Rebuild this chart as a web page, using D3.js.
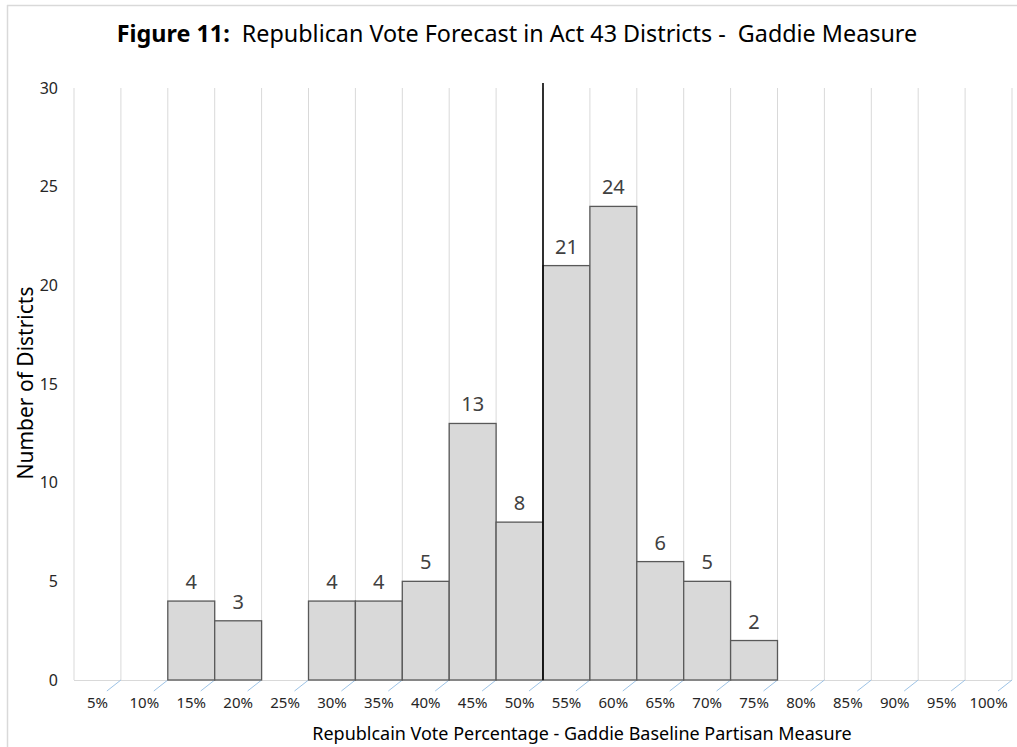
<!DOCTYPE html>
<html><head><meta charset="utf-8">
<script src="https://cdn.jsdelivr.net/npm/d3@7"></script>
<style>html,body{margin:0;padding:0;background:#fff;}svg{display:block;}</style>
</head><body>
<svg id="c" width="1017" height="747"></svg>
<script>
const categories = ["5%","10%","15%","20%","25%","30%","35%","40%","45%","50%","55%","60%","65%","70%","75%","80%","85%","90%","95%","100%"];
const counts = [0,0,4,3,0,4,4,5,13,8,21,24,6,5,2,0,0,0,0,0];
const yTicks = [0,5,10,15,20,25,30];
const markerAfter = "50%";
const titleBold = "Figure 11:";
const titleRest = "  Republican Vote Forecast in Act 43 Districts -  Gaddie Measure";
const xTitle = "Republcain Vote Percentage - Gaddie Baseline Partisan Measure";
const yTitle = "Number of Districts";

const FONT = "'Noto Sans', 'Open Sans', sans-serif";
const svg = d3.select("#c");
const W = 1017, H = 747;
const m = {left: 74, right: 1012, top: 88, bottom: 680};

// frame
svg.append("line").attr("x1",7).attr("x2",W).attr("y1",5.5).attr("y2",5.5).attr("stroke","#d9d9d9").attr("stroke-width",1.5);
svg.append("line").attr("x1",7.5).attr("x2",7.5).attr("y1",5).attr("y2",H).attr("stroke","#d9d9d9").attr("stroke-width",1.5);

const x = d3.scaleBand().domain(categories).range([m.left, m.right]).padding(0);
const y = d3.scaleLinear().domain([0,30]).range([m.bottom, m.top]);
const bw = x.bandwidth();
const bounds = categories.map(c => x(c)).concat([x(categories[categories.length-1]) + bw]);

// vertical gridlines
svg.append("g").selectAll("line").data(bounds).join("line")
  .attr("x1", d=>d).attr("x2", d=>d).attr("y1", m.top).attr("y2", m.bottom)
  .attr("stroke","#d9d9d9").attr("stroke-width",1);

// x axis line
svg.append("line").attr("x1", m.left).attr("x2", m.right).attr("y1", m.bottom+0.5).attr("y2", m.bottom+0.5)
  .attr("stroke","#d9d9d9").attr("stroke-width",1);

// diagonal ticks
svg.append("g").selectAll("line").data(bounds.slice(1)).join("line")
  .attr("x1", d=>d).attr("y1", m.bottom).attr("x2", d=>d-14).attr("y2", m.bottom+11)
  .attr("stroke","#9dc3e6").attr("stroke-width",1);

// bars
const data = categories.map((c,i)=>({c, v: counts[i]})).filter(d=>d.v>0);
svg.append("g").selectAll("rect").data(data).join("rect")
  .attr("x", d=>x(d.c)).attr("y", d=>y(d.v)).attr("width", bw).attr("height", d=>y(0)-y(d.v))
  .attr("fill","#d9d9d9").attr("stroke","#595959").attr("stroke-width",1.3);

// value labels
svg.append("g").selectAll("text").data(data).join("text")
  .attr("x", d=>x(d.c)+bw/2).attr("y", d=>y(d.v)-12)
  .attr("text-anchor","middle").attr("font-family",FONT).attr("font-size",20).attr("fill","#404040")
  .text(d=>d.v);

// marker line
const mx = x(markerAfter) + bw;
svg.append("line").attr("x1", mx).attr("x2", mx).attr("y1", m.top-5).attr("y2", m.bottom)
  .attr("stroke","#000").attr("stroke-width",1.6);

// x tick labels
svg.append("g").selectAll("text").data(categories).join("text")
  .attr("x", d=>x(d)+bw/2).attr("y", 708)
  .attr("text-anchor","middle").attr("font-family",FONT).attr("font-size",15).attr("fill","#262626")
  .text(d=>d);

// y tick labels
svg.append("g").selectAll("text").data(yTicks).join("text")
  .attr("x", 58).attr("y", d=>y(d)).attr("dy","0.36em")
  .attr("text-anchor","end").attr("font-family",FONT).attr("font-size",16).attr("fill","#262626")
  .text(d=>d);

function fit(sel, target) {
  const w = sel.node().getComputedTextLength();
  const fs = parseFloat(sel.attr("font-size"));
  sel.attr("font-size", fs * target / w);
}

// title
const t = svg.append("text").attr("x", 517).attr("y", 42).attr("text-anchor","middle")
  .attr("font-family",FONT).attr("font-size",22).attr("fill","#000").attr("xml:space","preserve");
t.append("tspan").attr("font-weight","bold").text(titleBold);
t.append("tspan").text(titleRest);
t.style("white-space","pre");
fit(t, 801);

// x title
const xt = svg.append("text").attr("x", 582).attr("y", 740).attr("text-anchor","middle")
  .attr("font-family",FONT).attr("font-size",17).attr("fill","#000").text(xTitle);
fit(xt, 540);

// y title
const yt = svg.append("text").attr("transform","translate(33,383) rotate(-90)").attr("text-anchor","middle")
  .attr("font-family",FONT).attr("font-size",20).attr("fill","#000").text(yTitle);
fit(yt, 193);
</script>
</body></html>
